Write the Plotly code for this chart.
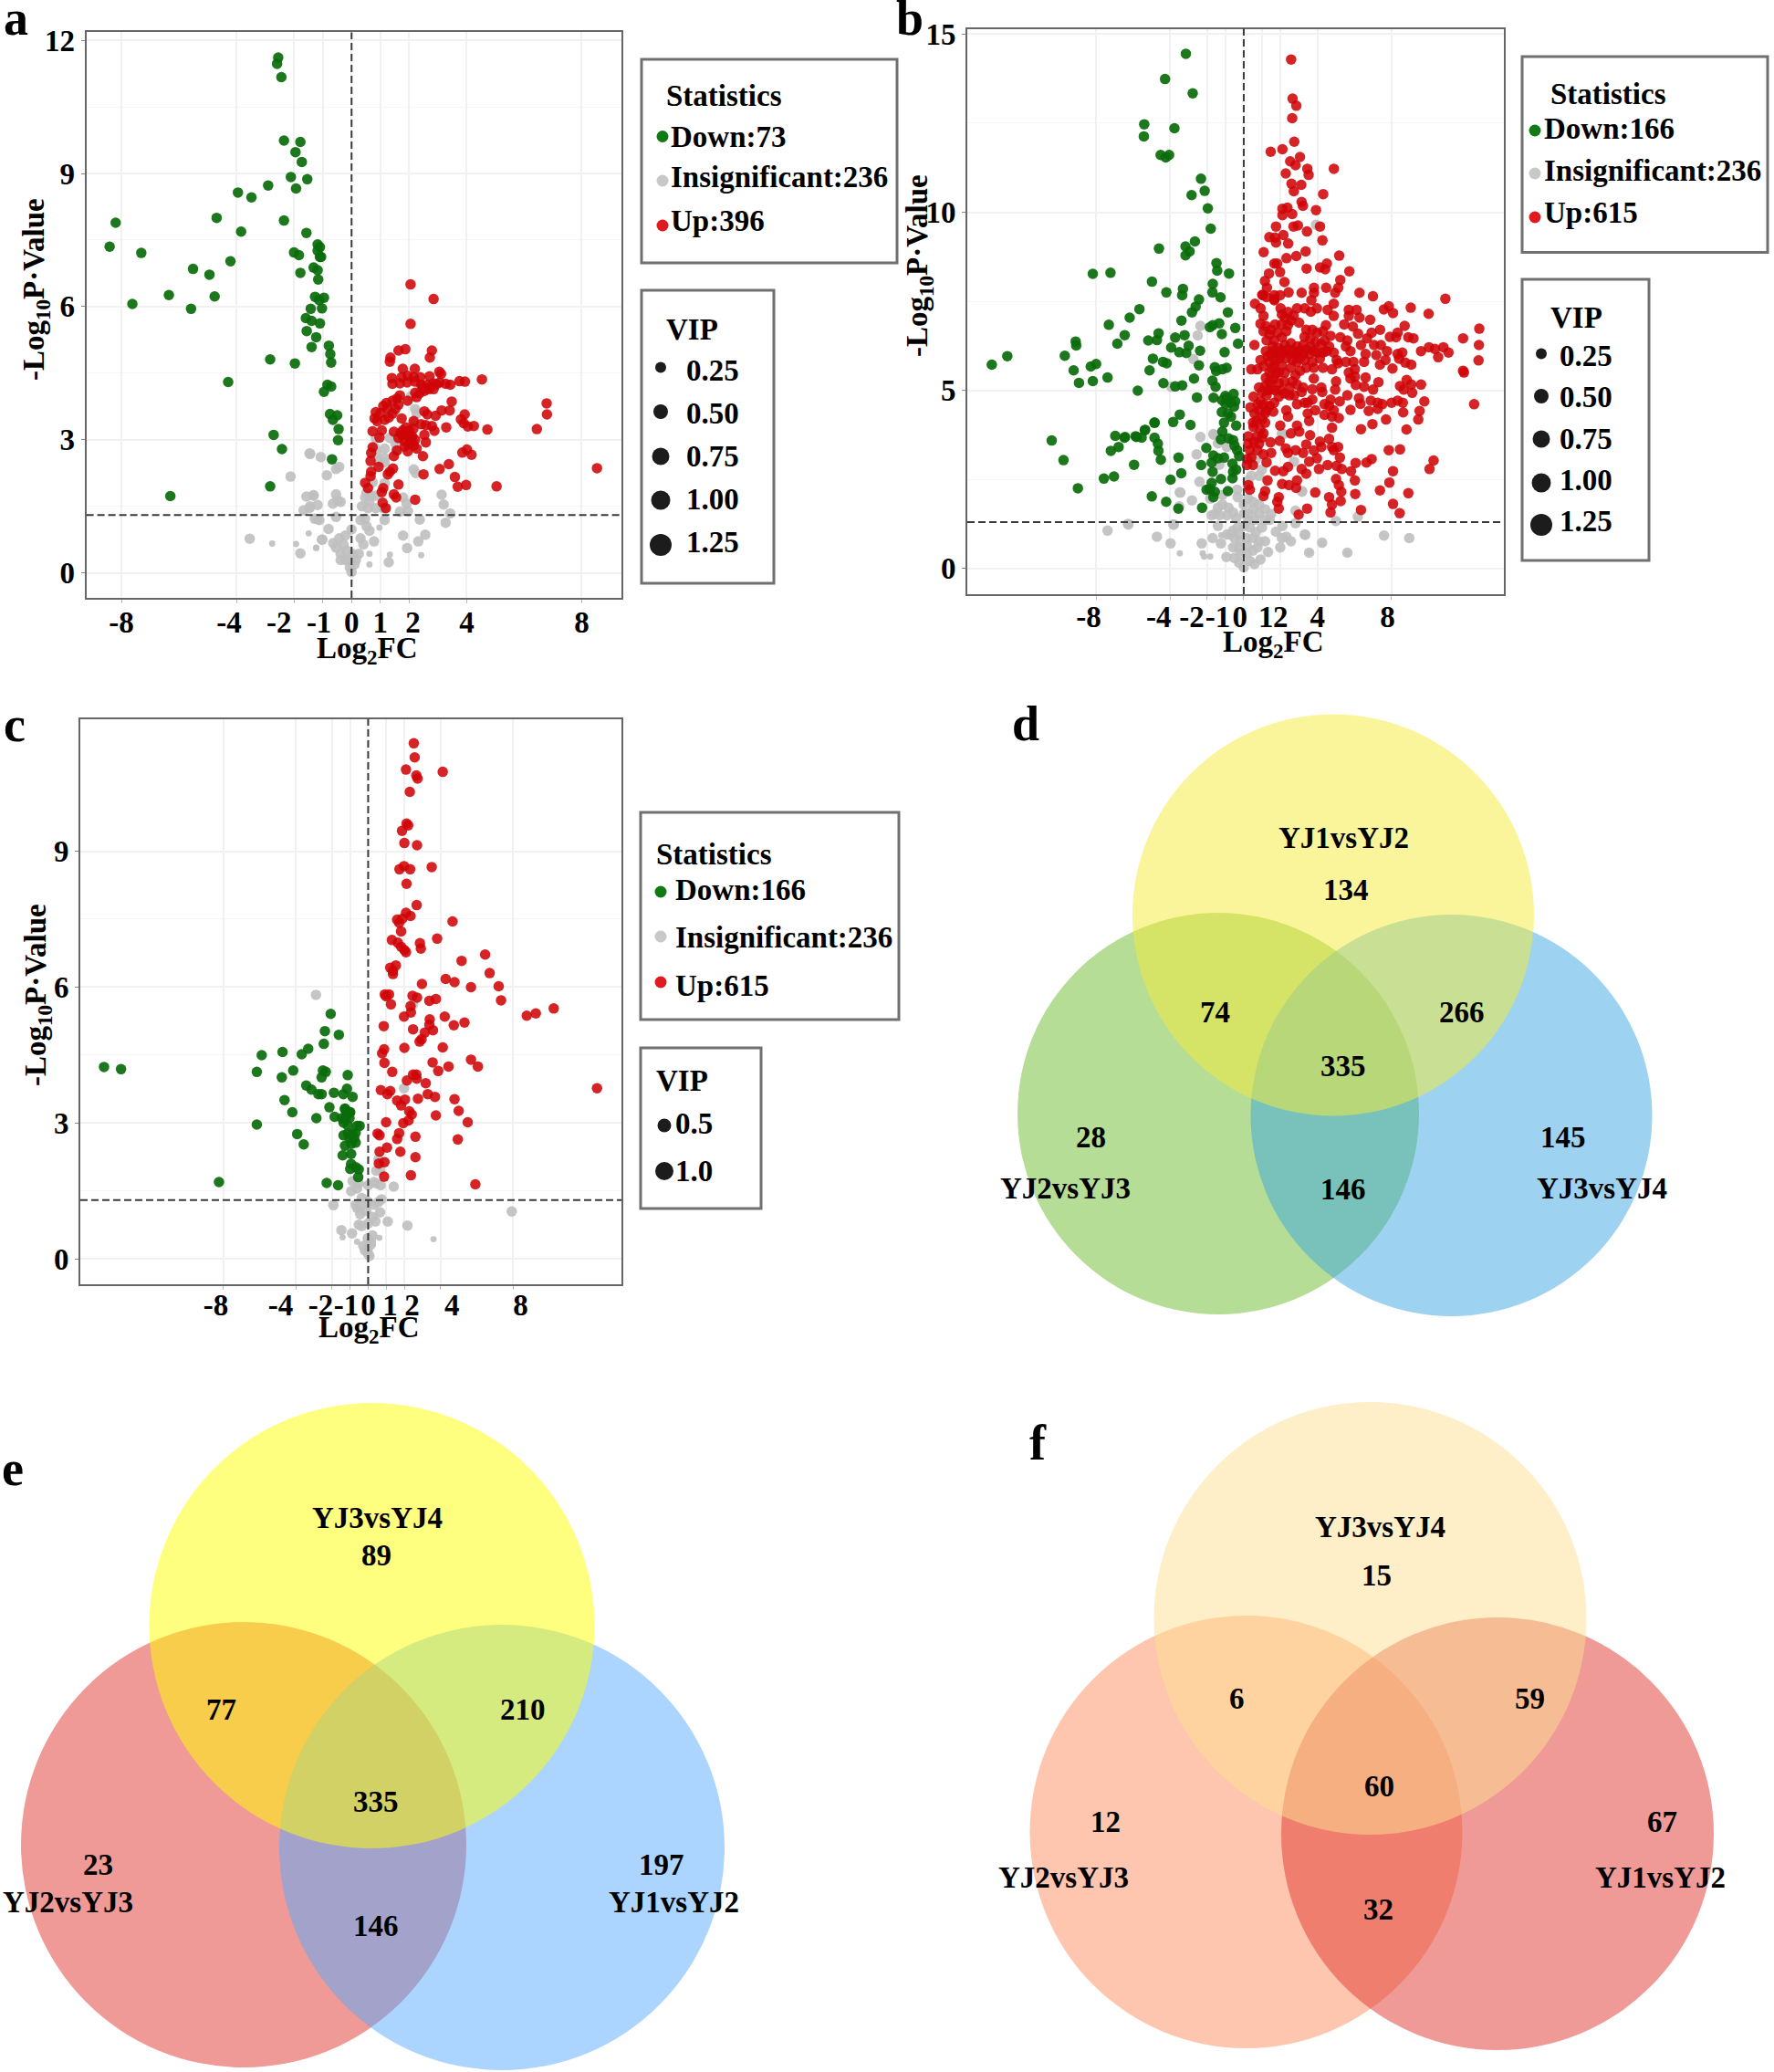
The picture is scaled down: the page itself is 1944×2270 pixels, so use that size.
import plotly.graph_objects as go

W, H = 1944, 2270
FONT = "Liberation Serif"
NB = "\u00a0"

# ---------- panel a data (log2FC, -log10 P) ----------
A_DOWN = [(-2.55,11.61),(-2.59,11.47),(-2.44,11.17),(-2.35,9.74),(-1.78,9.71),(-1.95,9.48),(-1.73,9.26),(-2.11,8.92),(-1.54,8.87),(-2.90,8.73),(-1.93,8.66),(-3.95,8.57),(-3.48,8.46),(-4.69,8.0),(-2.35,7.94),(-8.2,7.89),(-3.84,7.69),(-1.57,7.66),(-8.41,7.35),(-1.18,7.40),(-7.31,7.21),(-1.10,7.34),(-1.18,7.26),(-2.0,7.22),(-1.83,7.16),(-1.10,7.12),(-1.06,7.12),(-4.21,7.02),(-1.32,6.88),(-5.51,6.85),(-1.18,6.82),(-4.94,6.72),(-1.78,6.76),(-1.16,6.61),(-6.35,6.26),(-4.76,6.23),(-1.27,6.22),(-0.96,6.2),(-1.13,6.15),(-7.62,6.06),(-5.58,5.95),(-1.42,5.95),(-1.03,5.96),(-1.59,5.74),(-1.39,5.68),(-1.10,5.62),(-1.56,5.45),(-1.23,5.31),(-1.39,5.09),(-0.79,5.12),(-0.74,4.93),(-2.83,4.81),(-0.71,4.74),(-1.97,4.72),(-4.29,4.30),(-0.84,4.24),(-0.71,4.2),(-0.96,4.08),(-0.75,3.58),(-0.5,3.55),(-0.65,3.45),(-0.45,3.24),(-2.71,3.11),(-0.47,2.99),(-2.42,2.79),(-0.68,2.56),(-2.83,1.95),(-6.3,1.73)]
A_UP = [(2.05,6.5),(2.85,6.17),(2.05,5.61),(1.63,5.01),(1.87,5.04),(2.79,5.01),(2.72,4.85),(1.35,4.85),(1.33,4.76),(1.78,4.60),(2.20,4.60),(3.05,4.53),(1.40,4.39),(1.74,4.41),(1.95,4.44),(2.16,4.41),(2.39,4.41),(2.71,4.43),(3.11,4.48),(1.42,4.26),(1.68,4.27),(1.93,4.29),(2.21,4.31),(2.42,4.24),(2.63,4.24),(2.85,4.27),(3.06,4.29),(3.27,4.26),(3.43,4.24),(3.75,4.32),(3.94,4.31),(4.53,4.36),(2.69,4.14),(2.85,4.14),(2.53,4.10),(2.37,4.05),(2.26,3.96),(1.95,3.88),(1.68,4.0),(1.58,3.93),(1.42,3.88),(1.21,3.83),(1.10,3.76),(1.63,3.79),(3.48,3.86),(0.84,3.62),(0.80,3.48),(1.15,3.45),(1.29,3.50),(1.42,3.59),(1.52,3.69),(1.74,3.48),(0.89,3.42),(1.05,3.21),(.73,3.19),(.97,3.05),(2.53,3.64),(2.63,3.57),(2.92,3.54),(3.13,3.66),(3.41,3.66),(3.93,3.57),(3.80,3.46),(3.90,3.37),(4.04,3.30),(4.25,3.31),(4.72,3.23),(3.29,3.28),(6.44,3.24),(6.79,3.57),(6.78,3.82),(2.16,3.42),(2.42,3.35),(2.58,3.33),(2.79,3.31),(2.88,3.20),(2.53,3.11),(2.58,2.94),(1.89,3.28),(1.78,3.21),(1.47,3.18),(1.63,3.04),(1.95,3.14),(2.11,3.07),(2.21,3.0),(1.84,2.97),(2.0,2.90),(2.16,2.87),(2.26,2.80),(1.95,2.74),(1.58,2.76),(1.47,2.63),(2.48,2.63),(3.85,2.71),(4.01,2.78),(4.17,2.66),(3.38,2.45),(3.06,2.34),(2.50,2.22),(3.59,2.16),(3.69,1.94),(3.98,1.98),(5.04,1.95),(1.63,1.99),(2.21,1.65),(.73,2.83),(.68,2.70),(.66,2.52),(.94,2.39),(.68,2.28),(.66,2.18),(.47,2.03),(1.44,2.35),(1.33,2.28),(1.26,2.22),(1.10,1.91),(1.05,1.82),(1.47,1.77),(1.55,1.70),(1.08,1.58),(1.19,1.46),(.57,1.91),(8.53,2.36),(2.21,4.06),(2.48,4.18),(2.74,4.19),(2.95,4.25),(1.25,3.7),(1.0,3.6),(1.9,3.1),(2.05,3.05),(1.75,3.1),(2.0,3.2),(2.15,3.25),(1.85,2.85),(2.1,2.95),(1.7,3.15)]
A_GREY = [(2.21,3.69),(2.26,3.59),(2.14,3.38),(2.07,3.98),(.84,3.04),(1.33,3.04),(1.52,2.92),(1.55,2.76),(.80,2.83),(.87,2.70),(1.15,2.80),(1.15,2.59),(.94,2.52),(1.15,2.49),(2.16,2.33),(2.23,2.25),(.73,2.04),(1.15,2.02),(.52,1.80),(.68,1.74),(.84,1.74),(.47,1.70),(.62,1.60),(.36,1.5),(.57,1.46),(.84,1.46),(1.10,1.46),(1.79,1.70),(1.91,1.56),(1.96,1.39),(1.68,1.38),(3.13,1.76),(3.20,1.54),(3.43,1.34),(3.27,1.13),(2.37,1.20),(2.56,.86),(2.32,.71),(1.79,.84),(1.93,.56),(1.29,.24),(1.15,1.19),(.78,.71),(.31,1.19),(.47,1.22),(.52,1.05),(.62,.95),(.31,.78),(.41,.64),(.25,.43),(.15,.29),(0,.02),(-.06,.12),(-.22,.29),(-.38,.43),(-.54,.57),(-.64,.67),(-.43,.78),(-.22,.84),(0,.98),(-.17,.5),(.04,.43),(-.28,.64),(-.12,.29),(.1,.19),(-.38,.29),(-.54,1.77),(-.49,1.63),(-.65,1.56),(-.38,1.6),(-1.33,1.74),(-1.18,1.53),(-1.44,1.5),(-1.07,2.61),(-1.44,2.68),(-.43,2.39),(-.54,2.34),(-.86,2.2),(-.54,1.26),(-1.12,1.19),(-1.28,1.22),(-.8,.99),(-1.02,.75),(-2.12,2.17),(-1.46,2.69),(-1.32,1.75),(-1.57,1.72),(-1.67,1.41),(-1.46,1.46),(-1.18,1.21),(-3.54,.77),(-1.78,.44),(-1.03,.75)]
A_GREY_SMALL = [(1.33,.41),(2.42,.40),(.62,.19),(.97,1.02),(.62,.43),(-1.23,.57),(-2.76,.66),(-1.93,.65),(-1.49,.89),(-1.23,.56)]

# ---------- panel b data ----------
B_DOWN = [(-3.14,14.45),(-4.27,13.74),(-2.77,13.34),(-5.40,12.47),(-3.76,12.36),(-5.42,12.13),(-4.51,11.61),(-4.23,11.54),(-4.05,11.61),(-2.32,10.94),(-2.12,10.60),(-2.83,10.48),(-1.95,10.11),(-1.79,9.54),(-2.65,9.18),(-4.60,8.98),(-3.16,9.04),(-2.94,8.90),(-3.16,8.79),(-1.48,8.57),(-1.44,8.36),(-.80,8.28),(-8.19,8.27),(-7.23,8.30),(-4.98,8.05),(-1.68,7.99),(-3.30,7.85),(-3.34,7.67),(-4.20,7.75),(-1.70,7.75),(-1.26,7.61),(-2.43,7.55),(-2.61,7.35),(-2.81,7.19),(-.86,7.19),(-5.66,7.28),(-6.19,7.04),(-3.38,6.96),(-1.33,6.88),(-1.68,6.83),(-1.84,6.77),(-7.32,6.84),(-.46,6.75),(-1.19,6.58),(-4.62,6.60),(-6.46,6.55),(-3.21,6.55),(-3.72,6.48),(-5.18,6.40),(-4.71,6.41),(-6.86,6.31),(-9.12,6.37),(-9.09,6.26),(-.31,6.31),(-2.99,6.25),(-3.94,6.20),(-2.37,6.11),(-3.50,6.07),(-3.12,6.05),(-1.04,6.07),(-9.71,5.97),(-12.83,5.96),(-4.93,5.89),(-4.38,5.80),(-4.18,5.76),(-8.01,5.74),(-8.30,5.67),(-13.67,5.72),(-2.43,5.70),(-1.57,5.65),(-.93,5.63),(-1.17,5.59),(-9.23,5.56),(-5.11,5.56),(-1.50,5.54),(-7.39,5.36),(-2.70,5.33),(-8.94,5.21),(-8.19,5.26),(-4.36,5.20),(-1.70,5.27),(-1.53,5.10),(-3.72,5.11),(-3.34,5.14),(-5.75,4.99),(-2.54,4.80),(-1.64,4.79),(-1.0,4.84),(-.55,4.90),(-1.17,4.72),(-.73,4.66),(-.46,4.69),(-.91,4.78),(-.99,4.62),(-.53,4.54),(-.74,4.69),(-1.19,4.39),(-.86,4.35),(-.69,4.26),(-1.07,4.09),(-1.16,3.84),(-.41,4.01),(-3.47,4.32),(-3.83,4.11),(-2.89,4.03),(-4.83,4.09),(-5.37,3.88),(-6.47,3.67),(-5.87,3.71),(-5.54,3.67),(-4.84,3.67),(-4.66,3.50),(-4.63,3.30),(-4.50,3.05),(-5.95,2.91),(-3.54,3.11),(-2.03,3.38),(-1.24,3.62),(-.83,3.65),(-.58,3.60),(-.50,3.45),(-.36,3.32),(-.25,3.15),(-1.65,3.17),(-1.40,3.09),(-1.07,3.11),(-1.74,2.97),(-2.31,2.90),(-.61,2.94),(-.41,2.77),(-.58,2.71),(-3.39,2.67),(-1.69,2.71),(-1.24,2.51),(-3.97,2.49),(-.61,2.53),(-1.74,2.40),(-1.85,2.23),(-2.02,2.21),(-1.57,2.15),(-1.65,2.0),(-.86,2.17),(-4.99,2.02),(-4.21,1.87),(-3.55,1.68),(-2.26,1.70),(-7.04,2.58),(-10.42,3.59),(-9.78,3.04),(-6.97,3.72),(-6.44,3.69),(-7.21,3.30),(-6.79,3.41),(-7.59,2.52),(-9.0,2.25),(-5.82,3.69),(-5.35,3.89),(-4.85,4.09)]
B_UP_TOP = [(2.57,14.29),(2.65,13.19),(2.85,12.99),(2.63,12.64),(2.74,11.98),(1.46,11.70),(2.10,11.77),(3.05,11.55),(2.52,11.43),(2.81,11.32),(4.89,11.22),(3.45,11.22),(2.28,11.09),(3.52,11.05),(2.59,10.80),(3.12,10.77),(2.72,10.59),(4.31,10.51),(3.14,10.29),(3.21,10.18),(3.92,10.06),(2.10,10.10),(2.37,10.13),(2.63,9.95),(2.10,9.92),(4.14,9.60),(1.75,9.60),(2.70,9.60),(2.94,9.63),(3.43,9.46),(2.15,9.36),(1.39,9.30),(1.70,9.29),(4.27,9.21),(1.75,9.15),(2.41,9.12),(1.08,8.88),(3.36,8.90),(2.85,8.77),(5.18,8.78),(2.32,8.71),(1.66,8.56),(1.81,8.56),(4.51,8.56),(4.14,8.45),(3.41,8.42),(4.42,8.40),(5.73,8.34),(1.37,8.28),(1.97,8.32),(5.24,8.10),(1.15,8.07),(2.21,8.04),(4.47,7.88),(5.13,7.88),(1.26,7.88),(3.81,7.88),(2.43,7.75),(3.14,7.74),(3.81,7.74),(6.28,7.74),(4.96,7.74),(1.04,7.67),(1.66,7.67),(1.97,7.67),(7.01,7.64),(1.66,7.53)]
B_UP_MID = [(10.94,7.57),(.61,7.43),(1.0,7.68),(1.24,7.62),(1.65,7.56),(.91,7.30),(2.07,7.13),(2.89,7.30),(3.31,7.30),(3.67,7.53),(3.97,7.30),(3.64,7.21),(4.55,7.26),(4.88,7.43),(4.88,7.09),(5.70,7.26),(6.12,7.26),(5.70,7.09),(6.28,7.04),(6.86,6.98),(7.60,7.27),(7.87,7.36),(8.10,7.17),(9.06,7.32),(10.03,7.15),(8.73,6.81),(8.35,6.62),(7.40,6.70),(6.94,6.62),(6.69,6.46),(6.2,6.59),(5.92,6.79),(5.45,6.85),(5.24,6.49),(5.62,6.40),(5.54,6.23),(5.79,6.10),(6.36,6.27),(7.07,6.27),(7.44,6.27),(7.77,6.10),(7.93,6.50),(8.26,6.49),(8.93,6.49),(9.21,6.46),(9.62,6.10),(10.05,6.21),(10.38,6.16),(10.83,6.21),(11.11,6.06),(10.55,5.93),(11.9,6.46),(12.78,6.73),(12.76,6.27),(12.74,5.84),(11.9,5.55),(11.95,5.50),(12.5,4.61),(6.61,6.02),(7.19,5.99),(8.35,6.02),(8.6,6.06),(8.43,5.89),(6.53,5.80),(7.69,5.85),(7.39,5.72),(8.76,5.78),(9.09,5.72),(8.07,5.61),(5.95,5.80),(5.54,5.80),(6.03,5.59),(5.70,5.50),(6.03,5.38),(5.79,5.33),(6.61,5.36),(7.31,5.23),(6.08,5.15),(6.53,5.10),(7.02,5.02),(8.84,5.29),(8.48,5.12),(9.09,5.16),(9.62,5.16),(8.68,5.02),(9.14,4.93),(9.8,4.69),(5.01,5.25),(4.96,5.02),(3.80,5.33),(4.21,5.08),(3.72,5.03),(4.26,4.95),(3.22,5.08),(2.89,5.16),(5.62,4.86),(6.25,4.78),(6.33,4.62),(6.89,4.71),(7.27,4.65),(7.52,4.61),(8.02,4.65),(8.35,4.71),(8.63,4.65),(5.21,4.69),(4.71,4.74),(4.38,4.61),(4.63,4.56),(3.72,4.74),(3.31,4.65),(2.89,4.61)]
B_UP_LOW = [(5.79,4.45),(6.78,4.42),(7.27,4.48),(8.65,4.38),(9.54,4.42),(9.47,4.18),(7.72,4.18),(6.98,4.05),(6.36,3.91),(8.83,3.90),(3.88,4.44),(3.47,4.35),(4.38,4.31),(4.88,4.44),(4.79,4.26),(5.16,4.22),(3.55,4.14),(4.79,3.95),(2.31,4.44),(2.40,4.26),(2.89,4.01),(1.98,4.01),(2.56,3.79),(3.01,3.84),(3.60,3.74),(4.63,3.64),(1.45,3.54),(1.95,3.58),(4.13,3.56),(3.39,3.48),(4.21,3.41),(4.79,3.41),(5.12,3.41),(2.28,3.37),(3.80,3.31),(4.88,3.32),(2.81,3.32),(2.40,3.24),(3.22,3.24),(1.49,3.24),(1.07,3.20),(7.87,3.32),(8.48,3.34),(10.3,3.03),(10.08,2.79),(6.94,3.07),(6.66,2.97),(6.07,2.96),(5.22,3.11),(3.97,3.09),(3.55,3.0),(1.24,2.98),(8.10,2.73),(4.55,2.90),(5.04,2.88),(5.32,2.79),(5.82,2.73),(4.08,2.79),(3.14,2.79),(3.39,2.66),(2.40,2.85),(2.15,2.73),(1.70,2.74),(5.01,2.51),(6.03,2.47),(7.9,2.41),(5.16,2.34),(2.89,2.47),(1.29,2.47),(2.08,2.37),(2.45,2.34),(2.84,2.26),(5.29,2.15),(3.88,2.13),(7.39,2.19),(8.93,2.11),(6.05,2.09),(4.63,2.0),(1.16,2.17),(1.07,2.03),(1.90,2.0),(1.82,1.87),(5.26,1.89),(8.10,1.81),(4.79,1.79),(1.90,1.68),(3.44,1.68),(6.36,1.64),(4.71,1.57),(8.46,1.55),(2.98,1.51),(.33,2.21),(.25,2.34)]
B_UP_DENSE = [(.58,6.27),(.41,5.59),(.91,5.85),(.74,5.59),(.53,4.82),(.36,4.52),(.58,4.35),(.50,4.09),(.53,3.97),(.25,3.71),(.25,3.50),(.33,3.32),(.41,3.11),(.50,2.90),(.17,3.07),(.17,2.9),(.83,3.5),(.74,3.32),(.99,3.67),(1.07,3.79),(.99,4.18),(1.16,4.35),(.83,4.44),(.91,4.69),(1.24,4.86),(1.49,5.03),(.83,5.08),(1.16,5.12),(1.40,5.25),(1.74,5.46),(1.40,5.50),(1.07,5.68),(1.40,5.80),(1.74,5.85),(2.07,5.68),(2.23,5.50),(2.56,5.63),(2.89,5.80),(3.31,5.85),(3.72,5.80),(4.13,5.89),(4.30,5.63),(4.79,5.59),(3.80,5.63),(3.39,5.63),(3.06,5.55),(2.81,5.42),(2.64,5.25),(2.48,5.08),(2.23,4.91),(1.90,4.82),(1.65,4.65),(1.40,4.56),(1.24,4.44),(1.16,4.09),(3.14,4.95),(2.73,4.86),(2.48,4.86),(3.47,4.65),(1.40,6.57),(1.65,6.40),(1.82,6.62),(2.07,6.49),(2.31,6.66),(2.40,6.83),(2.56,6.96),(2.23,7.04),(1.07,6.66),(1.24,6.40),(1.57,6.23),(1.90,6.19),(2.23,6.27),(2.56,6.32),(2.89,6.23),(3.22,6.27),(3.64,6.23),(3.97,6.06),(4.30,6.06),(1.49,6.02),(1.82,6.02),(2.15,6.06),(2.48,6.02),(2.81,6.02),(3.22,6.02),(3.55,6.02),(1.49,6.70),(.91,6.87),(1.07,7.09),(3.39,6.70),(3.72,6.70),(3.97,6.62),(4.30,6.66),(4.46,6.83),(4.71,6.53),(4.38,6.40),(4.63,6.23),(4.88,6.06),(5.04,5.85),(5.12,5.76),(1.2,6.1),(1.6,6.1),(2.0,6.1),(2.4,6.15),(2.7,6.1),(3.0,6.1),(3.4,6.15),(1.3,5.95),(1.65,5.7),(1.95,5.9),(2.3,5.9),(2.65,5.85),(3.05,5.9),(1.55,5.6),(1.9,5.5),(1.2,5.35),(1.6,5.3),(1.9,5.2),(2.2,5.25),(1.0,4.95),(1.3,5.0),(1.7,5.0),(2.0,5.0),(0.75,4.6),(1.1,4.6),(1.6,4.4),(0.7,4.15),(0.9,3.9),(0.7,3.7),(0.55,3.55),(1.2,6.8),(1.7,6.85),(2.05,6.85),(2.0,7.3),(2.4,7.2),(2.7,7.1),(3.0,6.9),(3.3,6.5),(3.6,6.45),(3.9,6.35),(4.2,6.3),(4.5,6.1),(3.8,6.1)]
B_GREY = [(-2.35,3.69),(-1.65,3.77),(-1.40,3.51),(-.91,3.41),(-2.56,3.2),(-1.32,2.91),(-2.40,2.43),(-3.44,2.13),(-2.81,1.91),(-3.5,1.74),(-1.82,1.96),(-1.16,2.06),(-.36,2.21),(-.33,2.0),(-1.57,1.53),(-1.74,1.49),(-1.40,1.70),(-1.16,1.79),(-.83,1.70),(-.58,1.57),(-.41,1.4),(-.91,1.49),(-1.32,1.49),(.25,2.47),(.66,3.07),(.99,2.77),(.83,2.6),(.41,2.6),(2.07,3.79),(2.73,3.0),(3.17,2.17),(2.81,1.62),(2.81,1.27),(3.31,.95),(4.25,.72),(3.55,.44),(5.62,.44),(5.0,1.33),(2.56,.76),(1.98,.59),(2.31,.89),(2.07,.85),(1.74,1.03),(2.1,1.19),(1.40,1.36),(1.49,1.53),(1.16,1.66),(.83,1.79),(.5,1.87),(.25,1.96),(0,1.79),(.5,1.66),(.83,1.53),(1.16,1.36),(.25,1.53),(0,1.53),(.58,1.36),(.25,1.36),(0,1.19),(.33,1.15),(.66,1.02),(.99,1.15),(-.33,1.15),(-.58,1.06),(-.25,.97),(-.5,.85),(-.17,.76),(.17,.85),(.5,.85),(.83,.76),(1.16,.76),(1.32,.46),(.91,.25),(.58,.12),(0,.03),(-.25,.16),(-.5,.29),(-.17,.42),(.17,.42),(.5,.5),(.74,.59),(-.58,.59),(-.25,.59),(.17,.63),(.33,.21),(-.94,.32),(-1.24,.7),(-1.69,.85),(-2.28,.70),(-.91,.95),(-1.40,1.19),(-3.8,1.23),(-4.71,.89),(-3.97,.7),(-6.28,1.25),(-.74,.95),(3.92,9.65),(-2.35,6.81),(-2.5,6.54),(-2.74,5.88),(-3.94,5.10),(-3.47,2.13),(-7.39,1.06),(-6.26,1.23),(-3.81,1.23),(7.61,.92),(8.98,.85),(6.19,1.45),(3.34,.94),(3.16,2.15),(2.15,3.77),(-1.62,3.75)]
B_GREY_SMALL = [(-3.47,.42),(-2.23,.42),(-2.15,.33),(-1.82,.33),(-1.22,.93),(5.64,.42),(4.27,.7),(3.56,.45)]

# ---------- panel c data ----------
C_DOWN = [(-14.59,4.24),(-13.65,4.19),(-8.24,1.70),(-6.15,4.13),(-5.88,4.50),(-6.15,2.97),(-4.77,4.01),(-4.73,4.57),(-4.14,4.16),(-4.62,3.51),(-4.19,3.24),(-3.92,2.76),(-3.56,2.53),(-3.67,4.52),(-3.31,4.64),(-3.42,3.83),(-3.13,3.74),(-2.86,3.11),(-2.75,3.64),(-2.57,3.64),(-2.57,4.01),(-2.50,4.16),(-2.34,4.13),(-2.45,4.75),(-2.39,5.03),(-2.07,5.41),(-1.62,4.95),(-1.13,4.06),(-1.89,3.67),(-1.37,3.64),(-1.17,3.76),(-.86,3.58),(-2.14,3.35),(-1.85,3.14),(-1.28,3.32),(-.99,3.24),(-1.28,3.31),(-1.03,3.24),(-1.19,3.18),(-1.45,3.11),(-1.28,3.08),(-1.03,3.11),(-1.36,3.01),(-1.11,2.94),(-.61,2.94),(-.47,2.94),(-.69,2.79),(-1.36,2.73),(-1.11,2.77),(-.86,2.74),(-1.03,2.67),(-.77,2.67),(-.69,2.57),(-1.28,2.5),(-.94,2.54),(-.94,2.32),(-1.41,2.29),(-.94,2.10),(-.99,1.99),(-.69,2.03),(-.52,1.98),(-.55,1.81),(-2.29,1.68),(-1.66,1.63)]
C_UP = [(2.52,11.38),(2.57,11.07),(2.09,10.80),(2.66,10.67),(2.73,10.60),(4.12,10.75),(2.30,10.31),(2.12,9.61),(2.21,9.57),(1.87,9.45),(2.0,9.18),(2.70,9.13),(3.51,8.65),(1.98,8.67),(1.73,8.60),(2.32,8.60),(2.12,8.28),(2.68,7.81),(2.09,7.64),(2.34,7.57),(1.60,7.49),(1.89,7.51),(1.71,7.42),(4.66,7.45),(1.82,7.23),(3.81,7.07),(1.31,7.04),(1.64,6.98),(2.86,6.97),(1.82,6.89),(2.91,6.85),(2.0,6.82),(2.09,6.77),(6.46,6.72),(5.16,6.58),(1.53,6.48),(1.22,6.43),(1.37,6.36),(1.37,6.29),(6.71,6.31),(4.28,6.18),(4.77,6.11),(2.97,6.07),(7.21,6.02),(5.68,6.0),(.92,5.84),(1.15,5.84),(.99,5.80),(2.45,5.81),(2.70,5.77),(3.74,5.74),(3.38,5.70),(7.34,5.71),(1.26,5.62),(2.34,5.58),(10.25,5.53),(2.36,5.44),(9.26,5.42),(8.76,5.37),(1.98,5.35),(4.23,5.35),(3.40,5.29),(5.32,5.22),(3.38,5.17),(.86,5.14),(4.73,5.16),(2.48,5.07),(3.58,5.05),(3.13,5.0),(2.95,4.85),(2.84,4.80),(4.12,4.67),(2.0,4.66),(.88,4.63),(.77,4.54),(5.68,4.40),(.90,4.33),(3.56,4.34),(6.06,4.25),(4.44,4.25),(3.87,4.15),(1.33,4.13),(2.48,4.07),(2.66,4.07),(2.68,3.98),(2.14,3.94),(3.18,3.88),(12.64,3.77),(.70,3.73),(1.22,3.71),(1.06,3.64),(3.29,3.64),(3.69,3.58),(2.75,3.54),(4.77,3.53),(1.60,3.50),(2.03,3.52),(1.82,3.39),(5.0,3.27),(2.27,3.26),(2.41,3.19),(3.74,3.17),(2.23,3.06),(1.94,3.0),(.99,3.02),(5.50,3.02),(.52,2.77),(.63,2.73),(1.71,2.78),(2.61,2.70),(1.60,2.65),(4.95,2.64),(1.04,2.46),(.63,2.37),(1.78,2.37),(2.61,2.25),(.90,2.14),(.59,2.11),(.88,1.82),(2.36,1.85),(5.92,1.65)]
C_GREY = [(-2.88,5.83),(2.48,5.62),(1.98,3.77),(.57,2.20),(.45,1.95),(.66,1.97),(.32,1.70),(.45,1.67),(.69,1.63),(1.41,1.60),(-.86,1.72),(-.52,1.67),(-.61,1.56),(-.94,1.50),(0,1.63),(-.35,1.35),(.74,1.32),(-1.92,1.19),(-.69,1.2),(-.44,1.16),(-.61,1.13),(.32,1.2),(.57,1.26),(0,1.26),(.66,1.03),(-.44,.99),(-.1,1.06),(.24,.93),(1.08,.83),(.40,.83),(-.35,.73),(-.52,.76),(0,.79),(2.17,.74),(-1.48,.64),(-.89,.57),(.24,.52),(-.02,.46),(.15,.39),(-.27,.29),(0,.26),(.15,.32),(0,.12),(.07,.07),(-.18,.19),(7.93,1.05)]
C_GREY_SMALL = [(-1.41,.48),(.62,.47),(3.61,.44),(-.61,.38)]

# ---------- axes values ----------
A_XT = [-8,-4,-2,-1,0,1,2,4,8]
A_XL = ["-8","-4"+NB*2,"-2"+NB*4,"-1"+NB,"0",  "1",NB+"2","4","8"]
A_YT = [0,3,6,9,12]
B_XT = [-8,-4,-2,-1,0,1,2,4,8]
B_XL = ["-8"+NB*2,"-4"+NB*3,"-2"+NB*4,"-1"+NB*2,"0"+NB,NB+"1","2","4","8"+NB]
B_YT = [0,5,10,15]
C_XT = [-8,-4,-2,-1,0,1,2,4,8]
C_XL = ["-8"+NB*2,"-4"+NB*4,"-2"+NB*3,"-1"+NB,"0",NB+"1",NB*2+"2",NB*3+"4",NB*2+"8"]
C_YT = [0,3,6,9]

STAT_NAMES = ["Down","Insignificant","Up"]
STAT_A = [73,236,396]
STAT_B = [166,236,615]
STAT_C = [166,236,615]
VIP_AB = ["0.25","0.50","0.75","1.00","1.25"]
VIP_C = ["0.5","1.0"]
STAT_COLORS = ["#127a14","#c8c8c8","#e01a1e"]

# ---------- venn values ----------
VENN_D_CIRCLES = [(1335,1220,220,"#6BBB2B"),(1590.5,1222,220,"#3BA7E1"),(1461,1002.5,220,"#F5EB37")]
VENN_E_CIRCLES = [(267,2021,244,"#DF352D"),(550,2024,244,"#57A9FF"),(407.5,1781,244,"#FFFF00")]
VENN_F_CIRCLES = [(1365.5,2007,237,"#FD8D5D"),(1641,2009,237,"#DF352D"),(1501.5,1773,237,"#FDDF91")]
VENN_D_TEXT = [("YJ1vsYJ2",1472,918),("134",1475,975),("74",1331,1109),("266",1602,1109),("335",1472,1168),("28",1195,1246),("145",1713,1246),("YJ2vsYJ3",1167,1302),("146",1472,1303),("YJ3vsYJ4",1755,1302)]
VENN_E_TEXT = [("YJ3vsYJ4",413,1663),("89",412,1704),("77",242,1873),("210",573,1873),("335",412,1974),("23",107,2043),("197",725,2043),("YJ2vsYJ3",74,2084),("YJ1vsYJ2",738,2084),("146",412,2110)]
VENN_F_TEXT = [("YJ3vsYJ4",1512,1673),("15",1508,1726),("6",1355,1861),("59",1676,1861),("60",1511,1957),("12",1211,1996),("67",1821,1996),("YJ2vsYJ3",1165,2057),("YJ1vsYJ2",1819,2057),("32",1510,2092)]
PANEL_LETTERS = [("a",2,40),("b",980,40),("c",2,814),("d",1107,813),("e",0,1629),("f",1126,1601)]

fig = go.Figure()

def xs(p): return [q[0] for q in p]
def ys(p): return [q[1] for q in p]

def panel(n, box, xr, yr, xt, xl, yt, grey, small, down, up, sz, standoff):
    L, T, R, B = box
    ax = "" if n == 1 else str(n)
    minor_y = [(yt[i]+yt[i+1])/2 for i in range(len(yt)-1)]
    fig.update_layout(**{
        f"xaxis{ax}": dict(domain=[L/W, R/W], range=xr, tickvals=xt, ticktext=xl, tickangle=0, automargin=False,
                           showgrid=True, gridcolor="#f1f1f1", gridwidth=2, zeroline=False,
                           showline=True, mirror=True, linecolor="#666666", linewidth=2,
                           ticks="outside", ticklen=4, tickcolor="#bbbbbb", ticklabelstandoff=standoff,
                           tickfont=dict(family=FONT, size=33, color="black", weight="bold"),
                           anchor=f"y{ax}"),
        f"yaxis{ax}": dict(domain=[1-B/H, 1-T/H], range=yr, tickvals=yt, tickangle=0, automargin=False,
                           showgrid=True, gridcolor="#f1f1f1", gridwidth=2, zeroline=False,
                           showline=True, mirror=True, linecolor="#666666", linewidth=2,
                           ticks="outside", ticklen=4, tickcolor="#888888",
                           minor=dict(tickvals=minor_y, showgrid=True, gridcolor="#f6f6f6", gridwidth=1, ticks=""),
                           tickfont=dict(family=FONT, size=33, color="black", weight="bold"),
                           anchor=f"x{ax}"),
    })
    xa, ya = f"x{ax}", f"y{ax}"
    for pts, col, s, op in [(grey,"#bfbfbf",sz,0.9),(small,"#bfbfbf",sz*0.6,0.9),(down,"#0a6b0a",sz,0.92),(up,"#cf0508",sz,0.88)]:
        fig.add_trace(go.Scatter(x=xs(pts), y=ys(pts), mode="markers", xaxis=xa, yaxis=ya, showlegend=False,
                                 marker=dict(color=col, size=s, opacity=op, line=dict(width=0))))
    line = dict(color="#3a3a3a", width=2, dash="8px,4px")
    fig.add_shape(type="line", xref=xa, yref=f"{ya} domain", x0=0, x1=0, y0=0, y1=1, line=line, layer="above")
    fig.add_shape(type="line", xref=f"{xa} domain", yref=ya, x0=0, x1=1, y0=1.301, y1=1.301, line=line, layer="above")

panel(1,(94.6,35.4,681,655),[-9.22,9.38],[-0.563,12.18],A_XT,A_XL,A_YT,A_GREY,A_GREY_SMALL,A_DOWN,A_UP,11.5,-8)
panel(2,(1060,31.6,1647.5,651),[-15.0,14.09],[-0.726,15.15],B_XT,B_XL,B_YT,B_GREY,B_GREY_SMALL,B_DOWN,B_UP_TOP+B_UP_MID+B_UP_LOW+B_UP_DENSE,11.5,-10)
panel(3,(88,787.5,681,1407),[-15.9,13.99],[-0.555,11.92],C_XT,C_XL,C_YT,C_GREY,C_GREY_SMALL,C_DOWN,C_UP,11.5,-12)

# full-page overlay axis, in pixel units, for legends and venns
fig.update_layout(
    xaxis4=dict(domain=[0,1], range=[0,W], visible=False, anchor="y4", automargin=False),
    yaxis4=dict(domain=[0,1], range=[H,0], visible=False, anchor="x4", automargin=False),
)
fig.add_trace(go.Scatter(x=[0,W], y=[0,H], mode="markers", xaxis="x4", yaxis="y4", showlegend=False,
                         marker=dict(size=1, opacity=0), hoverinfo="skip"))

def txt(s, x, y, size=33, anchor="center", angle=0, vanchor="middle"):
    fig.add_annotation(text=s, x=x, y=y, xref="x4", yref="y4", showarrow=False, xanchor=anchor, yanchor=vanchor,
                       textangle=angle, font=dict(family=FONT, size=size, color="black", weight="bold"))

def box(x0, y0, x1, y1):
    fig.add_shape(type="rect", xref="x4", yref="y4", x0=x0, y0=y0, x1=x1, y1=y1,
                  line=dict(color="#707070", width=3), fillcolor="rgba(0,0,0,0)", layer="above")

def dots(px, py, sizes, colors):
    fig.add_trace(go.Scatter(x=px, y=py, mode="markers", xaxis="x4", yaxis="y4", showlegend=False,
                             marker=dict(size=sizes, color=colors, opacity=1, line=dict(width=0))))

def legend(sb, vb, stat_vals, title_xy, label_x, label_y, dot_x, dot_y,
           vip_title, vip_labels, vip_text_x, vip_text_y, vip_dot_x, vip_dot_y, vip_sizes):
    box(*sb); box(*vb)
    txt("Statistics", title_xy[0], title_xy[1], anchor="left")
    for name, v, y in zip(STAT_NAMES, stat_vals, label_y):
        txt(f"{name}:{v}", label_x, y, anchor="left")
    dots([dot_x]*3, dot_y, [13,13,13], STAT_COLORS)
    txt("VIP", vip_title[0], vip_title[1], anchor="left")
    for lab, y in zip(vip_labels, vip_text_y):
        txt(lab, vip_text_x, y, anchor="left")
    dots([vip_dot_x]*len(vip_labels), vip_dot_y, vip_sizes, ["#1c1c1c"]*len(vip_labels))

legend((703,65,983,288),(703,318,848,639),STAT_A,(728,105),733,[150,194,242],726,[149.5,198,247],
       (728,361),VIP_AB,750,[406,453,500,547,594],724,[402.6,451,500,548,597],[12,16,19,21,24])
legend((1668,62,1937,276.5),(1668,306,1807,614),STAT_B,(1697,103),1690,[141.4,187,232.5],1682,[143,190,238],
       (1697,348),VIP_AB,1707,[390,435,481,526,571],1689,[387.5,434,481,529,575],[12,16,19,21,24])
legend((702,890,985,1117),(702,1148,834,1324),STAT_C,(717,936),738,[975,1027,1080],724,[977,1026,1076],
       (717,1184),VIP_C,738,[1231,1283],728,[1233,1283],[15,20])

for circles, labels in [(VENN_D_CIRCLES,VENN_D_TEXT),(VENN_E_CIRCLES,VENN_E_TEXT),(VENN_F_CIRCLES,VENN_F_TEXT)]:
    for cx, cy, r, col in circles:
        fig.add_shape(type="circle", xref="x4", yref="y4", x0=cx-r, x1=cx+r, y0=cy-r, y1=cy+r,
                      fillcolor=col, opacity=0.5, line=dict(width=0), layer="below")
    for s, x, y in labels:
        txt(s, x, y, size=33)

for s, x, y in PANEL_LETTERS:
    txt(s, x, y+12, size=54, anchor="left", vanchor="bottom")

# axis titles
TITLE_Y = "-Log<sub>10</sub>P·Value"
TITLE_X = "Log<sub>2</sub>FC"
for x, y in [(39,317),(1007,291),(41,1090)]:
    txt(TITLE_Y, x, y, angle=-90)
for x, y in [(402,712),(1395,705),(404,1456)]:
    txt(TITLE_X, x, y)

fig.update_layout(width=W, height=H, autosize=False, margin=dict(l=0,r=0,t=0,b=0),
                  paper_bgcolor="white", plot_bgcolor="rgba(0,0,0,0)", showlegend=False)
fig.write_html("out.html", config={"displayModeBar": False}, post_script="document.body.style.margin='0';")
